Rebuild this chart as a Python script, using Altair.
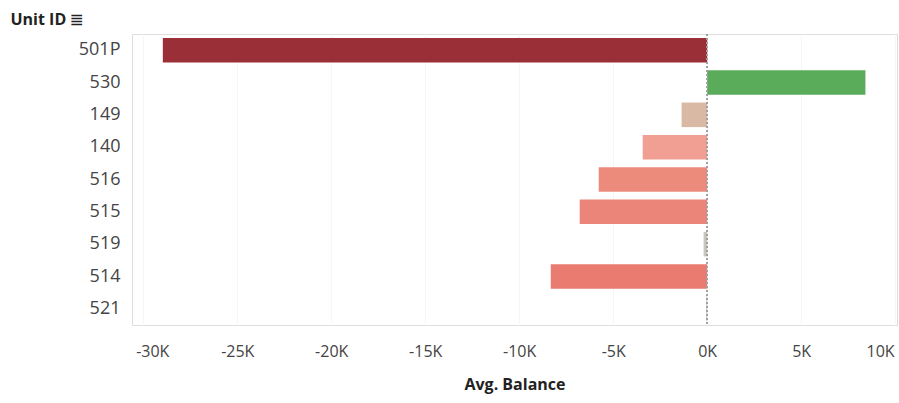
import altair as alt
import pandas as pd

units = ["501P", "530", "149", "140", "516", "515", "519", "514", "521"]
balances = [-28960, 8420, -1360, -3430, -5770, -6780, -190, -8320, -50]
colors = ["#9b2f38", "#5aab5a", "#d9b9a3", "#f19f92", "#ec8a7c", "#ec8579", "#c9c7bd", "#e97b70", "#c9c7bd"]
tick_values = [-30000, -25000, -20000, -15000, -10000, -5000, 0, 5000, 10000]

df = pd.DataFrame({"unit": units, "balance": balances})

FONT = "Open Sans"

bars = alt.Chart(df).mark_bar().encode(
    y=alt.Y("unit:N", sort=units,
            scale=alt.Scale(paddingInner=0.24, paddingOuter=0.12),
            axis=alt.Axis(title="Unit ID  \u2263", titleAngle=0, titleAlign="left",
                          titleBaseline="middle", titleX=-122, titleY=-15,
                          titleFont=FONT, titleFontSize=16, titleFontWeight="bold",
                          titleColor="#222222",
                          labelFont=FONT, labelFontSize=18, labelColor="#444444",
                          labelPadding=12, ticks=False, domain=False, grid=False)),
    x=alt.X("balance:Q",
            scale=alt.Scale(domain=[-30600, 10100], nice=False, zero=False),
            axis=alt.Axis(title="Avg. Balance", values=tick_values,
                          labelExpr="datum.value / 1000 + 'K'",
                          labelFont=FONT, labelFontSize=16, labelColor="#444444",
                          labelPadding=18, labelBound=False,
                          labelOffset={"condition": [
                              {"test": "datum.value == -30000", "value": 9},
                              {"test": "datum.value == 10000", "value": -15}],
                              "value": 0},
                          titleFont=FONT, titleFontSize=16, titleFontWeight="bold",
                          titleColor="#222222", titlePadding=17,
                          ticks=False, domain=False, grid=True,
                          gridColor="#f6f6f6", gridWidth=1)),
    color=alt.Color("unit:N", scale=alt.Scale(domain=units, range=colors), legend=None),
)

zero = alt.Chart(df).mark_rule(color="#a0a0a0", strokeDash=[2, 2], strokeWidth=1).encode(
    x=alt.datum(0)
)

chart = alt.layer(bars, zero).properties(
    width=765, height=291,
    autosize=alt.AutoSizeParams(type="none"),
    padding={"left": 132, "top": 34, "right": 2, "bottom": 78},
).configure_view(stroke=None).configure(background="white")

chart.save("out.html", embed_options={"renderer": "svg", "actions": False})
